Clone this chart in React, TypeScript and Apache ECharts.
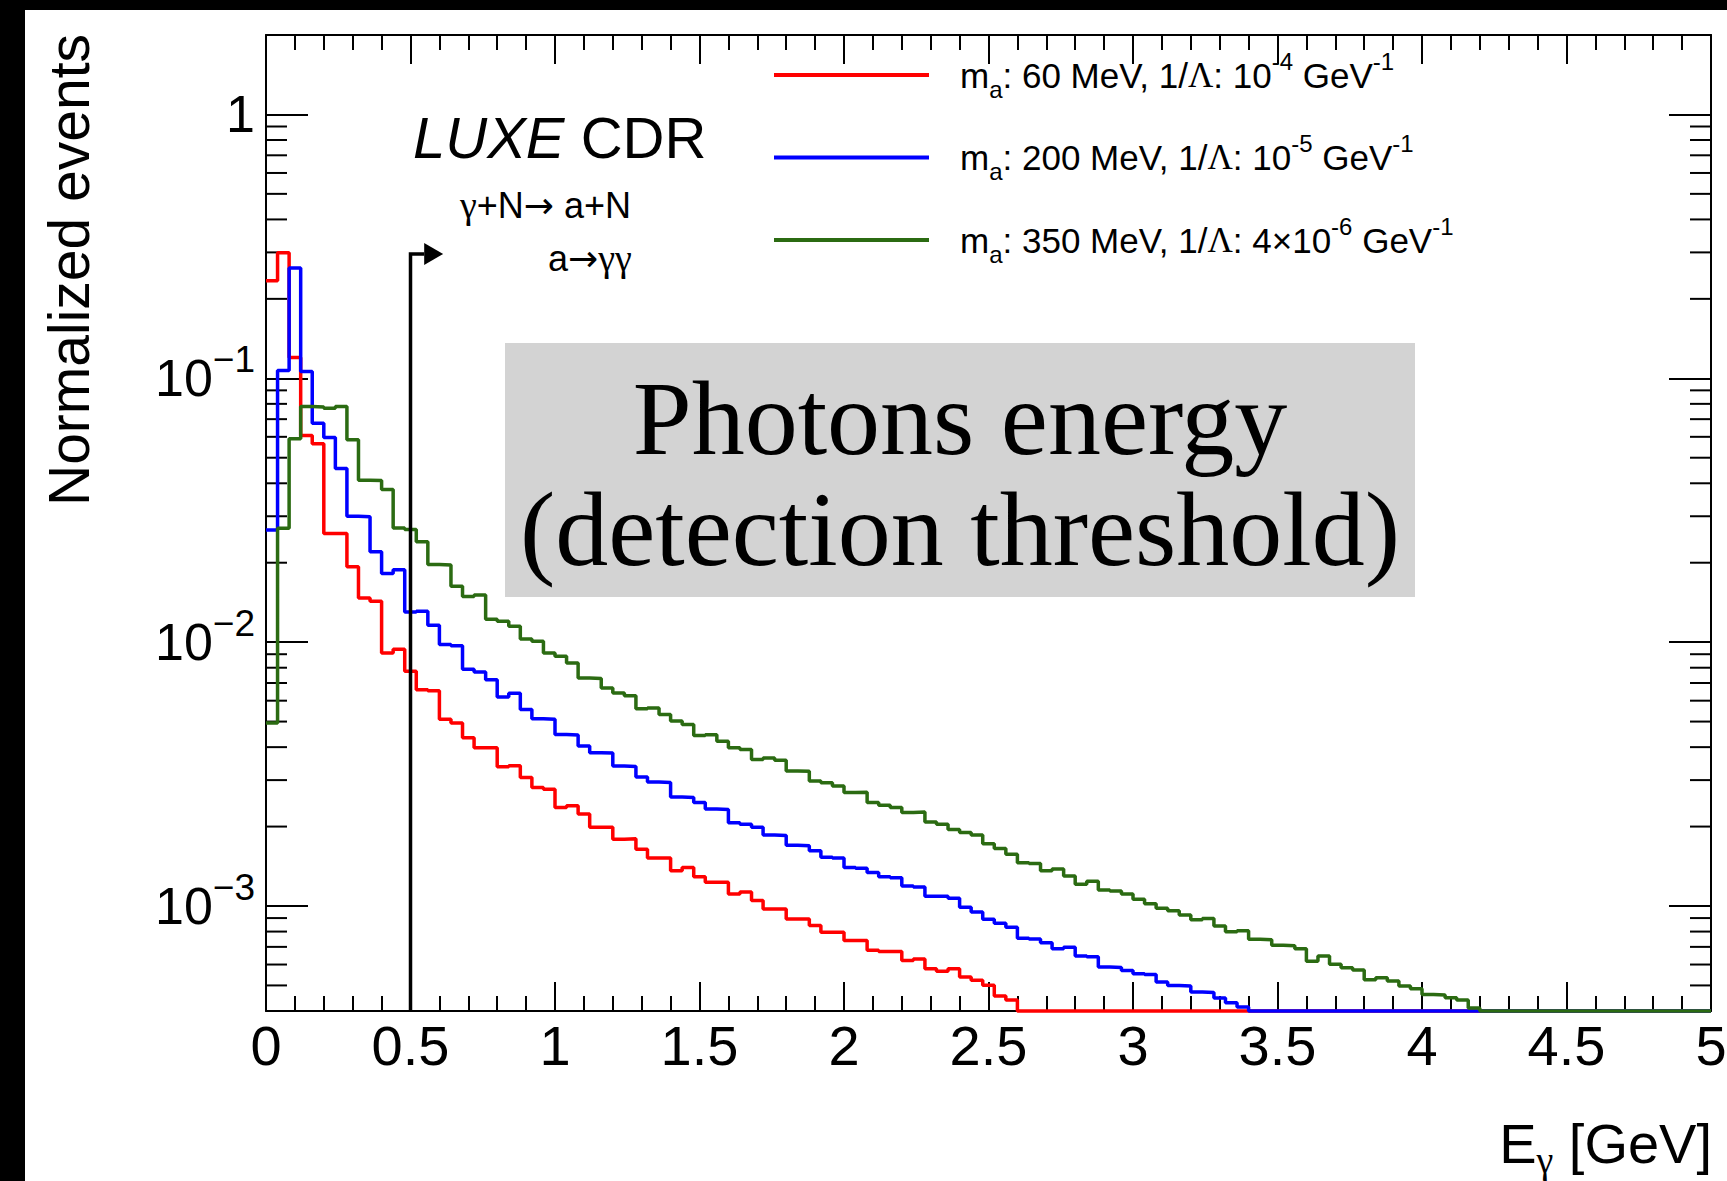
import React, { useEffect, useRef } from 'react';
import * as echarts from 'echarts';

// ---------- axes ----------
const X_MIN = 0;
const X_MAX = 5;
const X_INTERVAL = 0.5;
const BIN_WIDTH = 0.04;
const Y_MIN = 4e-4;
const Y_MAX = 2;
const Y_MINOR_TICKS = [
  5e-4, 6e-4, 7e-4, 8e-4, 9e-4,
  2e-3, 3e-3, 4e-3, 5e-3, 6e-3, 7e-3, 8e-3, 9e-3,
  0.02, 0.03, 0.04, 0.05, 0.06, 0.07, 0.08, 0.09,
  0.2, 0.3, 0.4, 0.5, 0.6, 0.7, 0.8, 0.9,
];

// ---------- annotation values ----------
const THRESHOLD = 0.5; // GeV
const ARROW_Y = 0.296;
const ARROW_TIP = 0.613;

// ---------- series ----------
const SERIES_NAMES = [
  'm_a: 60 MeV, 1/Λ: 10^-4 GeV^-1',
  'm_a: 200 MeV, 1/Λ: 10^-5 GeV^-1',
  'm_a: 350 MeV, 1/Λ: 4×10^-6 GeV^-1',
];
const LEGEND_LABELS = [
  '{t|m}{sub|a}{t|: 60 MeV, 1/}{g|Λ}{t|: 10}{sup|-4}{t| GeV}{sup|-1}',
  '{t|m}{sub|a}{t|: 200 MeV, 1/}{g|Λ}{t|: 10}{sup|-5}{t| GeV}{sup|-1}',
  '{t|m}{sub|a}{t|: 350 MeV, 1/}{g|Λ}{t|: 4×10}{sup|-6}{t| GeV}{sup|-1}',
];
const COLORS = ['#ff0000', '#0000ff', '#2b6b12'];

// normalized events per 0.04 GeV bin, 0..5 GeV (125 bins)
const RED = [
  0.234, 0.299, 0.120, 0.0607, 0.0565, 0.0258, 0.0258, 0.0193, 0.0147, 0.0143,
  0.0091, 0.0094, 0.00775, 0.0066, 0.00655, 0.0051, 0.00494, 0.00434, 0.00398, 0.00398,
  0.00337, 0.0034, 0.00307, 0.00281, 0.00277, 0.00236, 0.0024, 0.00223, 0.00199, 0.00199,
  0.00179, 0.0018, 0.00164, 0.00152, 0.00152, 0.00136, 0.0014, 0.00129, 0.00123, 0.00123,
  0.00111, 0.00113, 0.00105, 0.000975, 0.000975, 0.000893, 0.000893, 0.000843, 0.000796, 0.000796,
  0.00074, 0.00074, 0.000679, 0.000672, 0.000672, 0.000622, 0.00063, 0.000578, 0.000566, 0.000578,
  0.000538, 0.000523, 0.000501, 0.000456, 0.00044, 0, 0, 0, 0, 0,
  0, 0, 0, 0, 0, 0, 0, 0, 0, 0,
  0, 0, 0, 0, 0, 0, 0, 0, 0, 0,
  0, 0, 0, 0, 0, 0, 0, 0, 0, 0,
  0, 0, 0, 0, 0, 0, 0, 0, 0, 0,
  0, 0, 0, 0, 0, 0, 0, 0, 0, 0,
  0, 0, 0, 0, 0,
];
const BLUE = [
  0.0266, 0.107, 0.262, 0.106, 0.0676, 0.0596, 0.0455, 0.0300, 0.0299, 0.0220,
  0.0182, 0.0188, 0.0130, 0.0131, 0.0116, 0.0098, 0.0097, 0.0079, 0.0077, 0.0072,
  0.0062, 0.0064, 0.00555, 0.00513, 0.0051, 0.00447, 0.00445, 0.00404, 0.00381, 0.0038,
  0.00339, 0.00338, 0.00308, 0.00295, 0.00294, 0.00259, 0.00258, 0.00247, 0.00233, 0.00232,
  0.00207, 0.00204, 0.00199, 0.00186, 0.00185, 0.0017, 0.00169, 0.00162, 0.00153, 0.00152,
  0.0014, 0.00139, 0.00134, 0.00129, 0.00128, 0.00119, 0.00118, 0.00109, 0.00109, 0.00107,
  0.00099, 0.00095, 0.00089, 0.00086, 0.00083, 0.000755, 0.00075, 0.000725, 0.000688, 0.000698,
  0.000646, 0.000642, 0.000587, 0.000585, 0.00057, 0.000554, 0.00055, 0.000515, 0.0005, 0.000498,
  0.000472, 0.00047, 0.000448, 0.00043, 0.000414, 0, 0, 0, 0, 0,
  0, 0, 0, 0, 0, 0, 0, 0, 0, 0,
  0, 0, 0, 0, 0, 0, 0, 0, 0, 0,
  0, 0, 0, 0, 0, 0, 0, 0, 0, 0,
  0, 0, 0, 0, 0,
];
const GREEN = [
  0.00494, 0.0270, 0.059, 0.0782, 0.0778, 0.0770, 0.0782, 0.0585, 0.0411, 0.0410,
  0.0379, 0.0271, 0.0267, 0.0240, 0.0197, 0.0196, 0.0163, 0.0149, 0.0151, 0.0122,
  0.0120, 0.0115, 0.01027, 0.01007, 0.0091, 0.00884, 0.00834, 0.00731, 0.00728, 0.0067,
  0.00642, 0.00627, 0.00559, 0.00563, 0.00532, 0.00502, 0.00487, 0.00443, 0.00446, 0.00421,
  0.00398, 0.00392, 0.00359, 0.00364, 0.00357, 0.00325, 0.00324, 0.00298, 0.00293, 0.00285,
  0.00269, 0.0027, 0.00247, 0.00241, 0.00236, 0.00226, 0.00227, 0.00208, 0.00204, 0.00195,
  0.0019, 0.00186, 0.00172, 0.00165, 0.00157, 0.00146, 0.00145, 0.00136, 0.00138, 0.0013,
  0.00121, 0.00124, 0.00115, 0.00114, 0.00111, 0.00106, 0.00102, 0.00098, 0.00096, 0.000924,
  0.000887, 0.000896, 0.00084, 0.000798, 0.000805, 0.000748, 0.000745, 0.00071, 0.000707, 0.000689,
  0.000618, 0.000647, 0.000601, 0.000584, 0.000572, 0.000525, 0.000535, 0.00052, 0.000497, 0.000486,
  0.000462, 0.00046, 0.000449, 0.00044, 0.000411, 0, 0, 0, 0, 0,
  0, 0, 0, 0, 0, 0, 0, 0, 0, 0,
  0, 0, 0, 0, 0,
];
const HISTS = [RED, BLUE, GREEN];

const SANS = 'Liberation Sans';
const SERIF = 'Liberation Serif';
const SYM = 'DejaVu Sans';

// histogram as step line: one point at each bin's low edge, plus the last high edge.
// empty bins (and values under the frame) are drawn on the frame bottom, as ROOT does.
function histPoints(vals: number[]) {
  const pts = vals.map((v, i) => [i * BIN_WIDTH, Math.max(v, Y_MIN)]);
  pts.push([X_MAX, Math.max(vals[vals.length - 1], Y_MIN)]);
  return pts;
}

function yLabel(v: number) {
  const l = Math.log10(v);
  const e = Math.round(l);
  if (Math.abs(l - e) > 1e-6) return '';
  if (e === 0) return '{b|1}';
  return `{b|10}{s|\u2212${-e}}`;
}

export default function App() {
  const ref = useRef<HTMLDivElement>(null);

  useEffect(() => {
    if (!ref.current) return;
    const chart = echarts.init(ref.current, undefined, { renderer: 'svg' });

    const axisLine = { show: true, onZero: false, lineStyle: { color: '#000', width: 2 } };

    const xAxisBase = {
      type: 'value',
      min: X_MIN,
      max: X_MAX,
      interval: X_INTERVAL,
      axisLine,
      splitLine: { show: false },
      axisTick: { show: true, inside: true, length: 29, lineStyle: { color: '#000', width: 2 } },
      minorTick: { show: true, splitNumber: 5, length: 15, lineStyle: { color: '#000', width: 2 } },
      minorSplitLine: { show: false },
    };
    const yAxisBase = {
      type: 'log',
      logBase: 10,
      min: Y_MIN,
      max: Y_MAX,
      axisLine,
      splitLine: { show: false },
      axisTick: { show: true, inside: true, length: 42, lineStyle: { color: '#000', width: 2 } },
    };

    const option: any = {
      animation: false,
      textStyle: { fontFamily: SANS },
      grid: { left: 266, top: 35, width: 1445, height: 976, outerBoundsMode: 'none' },
      xAxis: [
        {
          ...xAxisBase,
          position: 'bottom',
          axisLabel: {
            show: true,
            color: '#000',
            fontSize: 56,
            fontFamily: SANS,
            margin: 6,
            formatter: (v: number) => String(Math.round(v * 10) / 10),
          },
        },
        { ...xAxisBase, position: 'top', axisLabel: { show: false } },
      ],
      yAxis: [
        {
          ...yAxisBase,
          position: 'left',
          axisLabel: {
            show: true,
            margin: 11,
            color: '#000',
            formatter: yLabel,
            showMinLabel: false,
            showMaxLabel: false,
            rich: {
              b: { fontSize: 52, lineHeight: 74, fontFamily: SANS, color: '#000' },
              s: { fontSize: 37, lineHeight: 37, verticalAlign: 'top', fontFamily: SANS, color: '#000' },
            },
          },
        },
        { ...yAxisBase, position: 'right', axisLabel: { show: false } },
      ],
      legend: {
        orient: 'vertical',
        left: 774,
        top: 49,
        padding: 0,
        itemWidth: 155,
        itemHeight: 4,
        itemGap: 30.5,
        icon: 'rect',
        selectedMode: false,
        data: SERIES_NAMES,
        formatter: (name: string) => LEGEND_LABELS[SERIES_NAMES.indexOf(name)],
        textStyle: {
          color: '#000',
          fontSize: 35,
          fontFamily: SANS,
          padding: [0, 0, 0, 26],
          rich: {
            t: { fontSize: 35, lineHeight: 52, fontFamily: SANS, color: '#000' },
            g: { fontSize: 35, lineHeight: 52, fontFamily: SERIF, color: '#000' },
            sub: { fontSize: 24, lineHeight: 24, verticalAlign: 'bottom', fontFamily: SANS, color: '#000' },
            sup: { fontSize: 24, lineHeight: 24, verticalAlign: 'top', fontFamily: SANS, color: '#000' },
          },
        },
      },
      series: [
        ...HISTS.map((vals, k) => ({
          type: 'line',
          name: SERIES_NAMES[k],
          color: COLORS[k],
          data: histPoints(vals),
          step: 'end',
          symbol: 'none',
          clip: false,
          lineStyle: { color: COLORS[k], width: 3.5 },
          z: 3 + k,
        })),
        {
          type: 'custom',
          name: 'minor-y-ticks',
          coordinateSystem: 'cartesian2d',
          data: Y_MINOR_TICKS.map((v) => [X_MIN, v]),
          encode: { x: 0, y: 1 },
          silent: true,
          z: 2,
          renderItem: (params: any, api: any) => {
            const y = api.coord([X_MIN, api.value(1)])[1];
            const cs = params.coordSys;
            const st = { stroke: '#000', lineWidth: 2 };
            return {
              type: 'group',
              children: [
                { type: 'line', shape: { x1: cs.x, y1: y, x2: cs.x + 21, y2: y }, style: st },
                { type: 'line', shape: { x1: cs.x + cs.width - 21, y1: y, x2: cs.x + cs.width, y2: y }, style: st },
              ],
            };
          },
        },
        {
          type: 'custom',
          name: 'threshold',
          coordinateSystem: 'cartesian2d',
          data: [[THRESHOLD, ARROW_Y, ARROW_TIP]],
          encode: { x: 0, y: 1 },
          silent: true,
          z: 10,
          renderItem: (params: any, api: any) => {
            const x0 = api.value(0);
            const yv = api.value(1);
            const tip = api.value(2);
            const pB = api.coord([x0, Y_MIN]);
            const pT = api.coord([x0, yv]);
            const pTip = api.coord([tip, yv]);
            const hw = 19;
            const hh = 11;
            return {
              type: 'group',
              children: [
                {
                  type: 'polyline',
                  shape: { points: [pB, pT, [pTip[0] - hw, pT[1]]] },
                  style: { stroke: '#000', lineWidth: 3.5, fill: null },
                },
                {
                  type: 'polygon',
                  shape: { points: [[pTip[0] - hw, pT[1] - hh], [pTip[0], pT[1]], [pTip[0] - hw, pT[1] + hh]] },
                  style: { fill: '#000' },
                },
              ],
            };
          },
        },
      ],
      graphic: [
        { type: 'rect', shape: { x: 0, y: 0, width: 1727, height: 10 }, style: { fill: '#000' }, z: 100 },
        { type: 'rect', shape: { x: 0, y: 0, width: 25, height: 1181 }, style: { fill: '#000' }, z: 100 },
        { type: 'rect', shape: { x: 505, y: 343, width: 910, height: 254 }, style: { fill: '#d3d3d3' }, z: 50 },
        {
          type: 'text', x: 960, y: 418, z: 51,
          style: { text: 'Photons energy', fontSize: 106, fontFamily: SERIF, fill: '#000', align: 'center', verticalAlign: 'middle' },
        },
        {
          type: 'text', x: 960, y: 529, z: 51,
          style: { text: '(detection threshold)', fontSize: 106, fontFamily: SERIF, fill: '#000', align: 'center', verticalAlign: 'middle' },
        },
        {
          type: 'text', x: 413, y: 137, z: 51,
          style: {
            text: '{i|LUXE} {n|CDR}',
            fontSize: 58, fontFamily: SANS, fill: '#000', align: 'left', verticalAlign: 'middle',
            rich: {
              i: { fontSize: 58, fontFamily: SANS, fontStyle: 'italic', fill: '#000' },
              n: { fontSize: 58, fontFamily: SANS, fill: '#000' },
            },
          },
        },
        {
          type: 'text', x: 460, y: 205, z: 51,
          style: {
            text: '{g|γ}{t|+N}{a|\u2192}{t| a+N}',
            fontSize: 36, fontFamily: SANS, fill: '#000', align: 'left', verticalAlign: 'middle',
            rich: {
              t: { fontSize: 36, lineHeight: 44, fontFamily: SANS, fill: '#000' },
              g: { fontSize: 38, lineHeight: 44, fontFamily: SERIF, fill: '#000' },
              a: { fontSize: 36, lineHeight: 44, fontFamily: SYM, fill: '#000' },
            },
          },
        },
        {
          type: 'text', x: 548, y: 258, z: 51,
          style: {
            text: '{t|a}{a|\u2192}{g|γγ}',
            fontSize: 36, fontFamily: SANS, fill: '#000', align: 'left', verticalAlign: 'middle',
            rich: {
              t: { fontSize: 36, lineHeight: 44, fontFamily: SANS, fill: '#000' },
              g: { fontSize: 38, lineHeight: 44, fontFamily: SERIF, fill: '#000' },
              a: { fontSize: 36, lineHeight: 44, fontFamily: SYM, fill: '#000' },
            },
          },
        },
        {
          type: 'text', x: 97, y: 34, rotation: Math.PI / 2, z: 51,
          style: { text: 'Normalized events', fontSize: 57, fontFamily: SANS, fill: '#000', align: 'right', verticalAlign: 'bottom' },
        },
        {
          type: 'text', x: 1712, y: 1143, z: 51,
          style: {
            text: '{t|E}{sub|γ}{t| [GeV]}',
            fontSize: 56, fontFamily: SANS, fill: '#000', align: 'right', verticalAlign: 'middle',
            rich: {
              t: { fontSize: 56, lineHeight: 72, fontFamily: SANS, fill: '#000' },
              sub: { fontSize: 38, lineHeight: 38, verticalAlign: 'bottom', fontFamily: SERIF, fill: '#000' },
            },
          },
        },
      ],
    };

    chart.setOption(option);
    return () => chart.dispose();
  }, []);

  return <div ref={ref} style={{ position: 'absolute', left: 0, top: 0, width: 1727, height: 1181 }} />;
}
